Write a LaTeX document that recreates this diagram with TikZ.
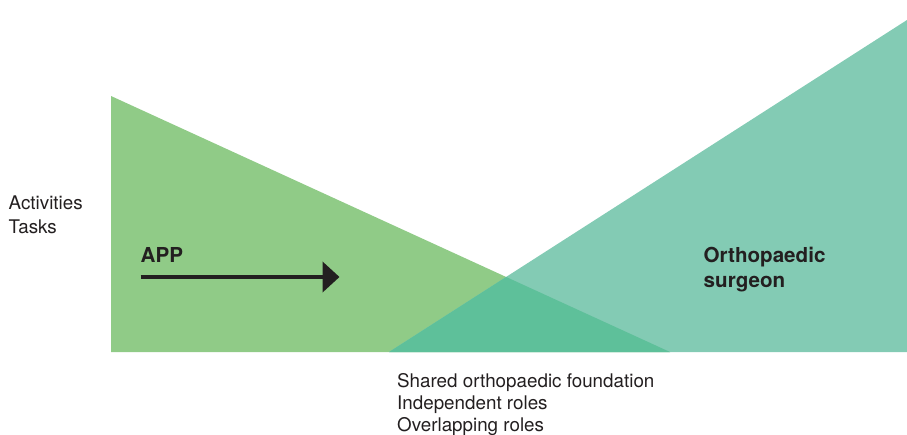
\documentclass[tikz,border=0pt]{standalone}
\usepackage{fontspec}
\setmainfont{TeX Gyre Heros}
\usetikzlibrary{arrows.meta}
\definecolor{appgreen}{RGB}{144,203,135}
\definecolor{surgteal}{RGB}{131,203,180}
\definecolor{overlapc}{RGB}{94,192,154}
\definecolor{txtdark}{RGB}{35,31,32}
\tikzset{
  lbl/.style={anchor=base west, inner sep=0pt, text=txtdark, font=\fontsize{18.8}{22}\selectfont},
  blbl/.style={anchor=base west, inner sep=0pt, text=txtdark, font=\fontsize{20.6}{24}\selectfont\bfseries},
  bigarrow/.style={line width=4.5pt, txtdark, -{Triangle[length=17pt,width=30pt]}}
}
\begin{document}
\begin{tikzpicture}[x=1pt,y=-1pt]
\useasboundingbox (0,0) rectangle (907,434);
% triangles
\fill[appgreen] (111,96) -- (111,352) -- (670,352) -- cycle;
\fill[surgteal] (389,352) -- (907,352) -- (907,20) -- cycle;
\begin{scope}
  \clip (111,96) -- (111,352) -- (670,352) -- cycle;
  \fill[overlapc] (389,352) -- (907,352) -- (907,20) -- cycle;
\end{scope}
% labels
\node[lbl] (act) at (8.5,209) {Activities};
\node[lbl] (tasks) at (8.5,233) {Tasks};
\node[blbl] (app) at (140.5,262) {APP};
\node[blbl] (orth) at (703.5,262) {Orthopaedic};
\node[blbl] (surg) at (703.5,287.5) {surgeon};
\node[lbl] (shared) at (397,387.5) {Shared orthopaedic foundation};
\node[lbl] (indep) at (397,409) {Independent roles};
\node[lbl] (overl) at (397,431) {Overlapping roles};
% arrow
\coordinate (arrS) at (140.5,277);
\coordinate (arrE) at (339.5,277);
\draw[bigarrow] (arrS) -- (arrE);
\end{tikzpicture}
\end{document}
